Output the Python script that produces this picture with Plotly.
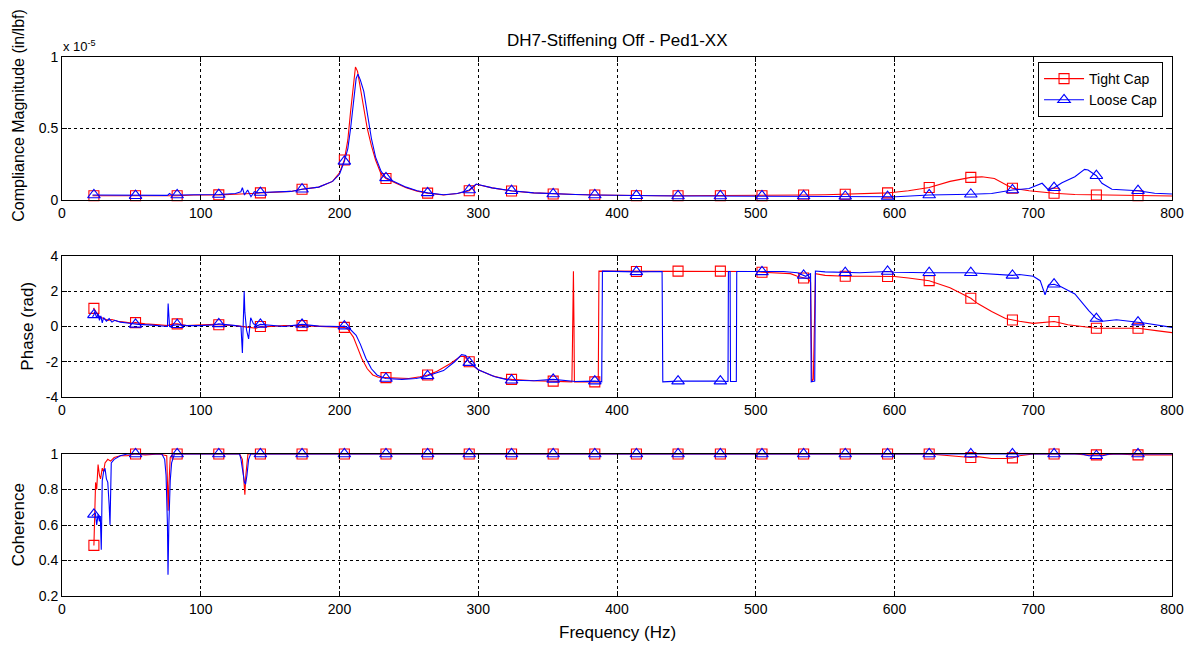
import plotly.graph_objects as go

# ---------------- data ----------------
# marker frequencies (Hz) shared by all series
MARK_F = [23, 53, 83, 113, 143, 173, 203.5, 233.5, 263.5, 293.5, 324, 354, 384, 414,
          444, 474.5, 504.5, 534.5, 564.5, 595, 625, 655, 685, 715, 745.5, 775.5]

# ---- Compliance magnitude (x 1e-5 in/lbf) ----
MAG_TIGHT_F = [22, 25, 28, 35, 45, 60, 70, 80, 95, 105, 125, 135, 155, 165, 185, 195, 200,
               206, 208, 210, 211.5, 213, 215, 217, 220, 223, 226, 230, 240, 248, 256, 275,
               285, 298.5, 310, 340, 370, 400, 430, 460, 490, 520, 550, 580, 600, 610, 640,
               663, 672, 697, 705, 730, 760, 790, 800]
MAG_TIGHT_V = [0.03, 0.028, 0.032, 0.03, 0.03, 0.032, 0.03, 0.032, 0.035, 0.034, 0.04, 0.045,
               0.055, 0.06, 0.09, 0.13, 0.19, 0.42, 0.62, 0.82, 0.93, 0.9, 0.78, 0.65, 0.5,
               0.38, 0.28, 0.18, 0.12, 0.085, 0.062, 0.035, 0.045, 0.11, 0.085, 0.05, 0.038,
               0.032, 0.03, 0.03, 0.03, 0.03, 0.037, 0.043, 0.054, 0.065, 0.13, 0.162, 0.15,
               0.065, 0.055, 0.038, 0.032, 0.028, 0.028]
MAG_TIGHT_MK = [0.03, 0.03, 0.03, 0.036, 0.05, 0.075, 0.28, 0.15, 0.048, 0.065, 0.063, 0.042,
                0.035, 0.03, 0.03, 0.03, 0.03, 0.035, 0.04, 0.05, 0.087, 0.158, 0.082, 0.047,
                0.035, 0.03]

MAG_LOOSE_F = [22, 25, 27, 30, 35, 45, 60, 70, 76, 77.5, 79, 95, 110, 125, 128.9, 130, 131.5,
               133.8, 136.2, 138.6, 141, 155, 165, 185, 195, 200, 206, 208, 210, 212, 213.3,
               215, 217.5, 220, 223, 226, 230, 240, 248, 256, 275, 285, 298.5, 310, 340, 370,
               400, 430, 460, 490, 520, 550, 580, 601, 640, 670, 697, 706.4, 711, 720.7, 730,
               737, 739.5, 749.5, 756.7, 787.5, 800]
MAG_LOOSE_V = [0.035, 0.03, 0.035, 0.03, 0.03, 0.03, 0.032, 0.03, 0.032, 0.045, 0.035, 0.036,
               0.038, 0.045, 0.058, 0.086, 0.035, 0.07, 0.023, 0.058, 0.05, 0.055, 0.06, 0.09,
               0.13, 0.18, 0.36, 0.5, 0.7, 0.85, 0.88, 0.84, 0.76, 0.6, 0.43, 0.3, 0.2, 0.125,
               0.09, 0.065, 0.037, 0.045, 0.112, 0.085, 0.05, 0.038, 0.032, 0.03, 0.028, 0.028,
               0.028, 0.028, 0.025, 0.023, 0.035, 0.045, 0.08, 0.117, 0.07, 0.121, 0.163, 0.214,
               0.21, 0.117, 0.075, 0.047, 0.042]
MAG_LOOSE_MK = [0.035, 0.03, 0.035, 0.038, 0.052, 0.075, 0.27, 0.155, 0.05, 0.07, 0.065, 0.042,
                0.035, 0.03, 0.028, 0.028, 0.028, 0.028, 0.026, 0.024, 0.035, 0.04, 0.07, 0.086,
                0.17, 0.065]

# ---- Phase (rad) ----
PH_TIGHT_F = [22.5, 25, 27, 30, 33, 36, 40, 45, 50, 60, 70, 76, 80, 90, 100, 110, 125, 135, 140,
              146, 150, 160, 185, 200, 206, 210, 213, 216, 220, 224, 228, 240, 250, 258, 270,
              280, 287, 290, 296, 300, 310, 318, 340, 367.5, 367.8, 368.3, 368.6, 369, 369.3,
              386.5, 387, 400, 430, 500, 525, 530, 538, 539.5, 540.5, 541.5, 543, 550, 580, 600,
              610, 640, 660, 670, 680, 690, 700, 708, 725, 735, 760, 790, 800]
PH_TIGHT_V = [1.0, 0.75, 0.55, 0.45, 0.35, 0.4, 0.3, 0.25, 0.2, 0.15, 0.1, 0.05, 0.15, 0.05, 0.1,
              0.12, 0.05, -0.05, -0.1, -0.02, 0.0, 0.05, 0.0, -0.05, -0.15, -0.6, -1.2, -1.8,
              -2.4, -2.75, -2.88, -2.95, -2.95, -2.85, -2.55, -2.1, -1.7, -1.7, -2.2, -2.45,
              -2.8, -2.95, -3.08, -3.14, -1.6, 1.6, 3.14, 0.0, -3.14, -3.14, 3.14, 3.14, 3.14,
              3.12, 3.0, 2.85, 2.7, 2.5, -3.1, -3.0, 3.0, 2.9, 2.85, 2.84, 2.75, 2.2, 1.3, 0.85,
              0.45, 0.3, 0.18, 0.22, 0.1, 0.0, -0.1, -0.25, -0.35]
PH_TIGHT_MK = [1.03, 0.22, 0.15, 0.1, 0.0, 0.05, -0.05, -2.9, -2.75, -2.0, -3.0, -3.1, -3.14,
               3.12, 3.14, 3.14, 3.08, 2.75, 2.85, 2.84, 2.6, 1.6, 0.37, 0.28, -0.1, -0.1]

PH_LOOSE_F = [22, 23.5, 25, 26, 27, 28, 29, 30, 32, 34, 36, 38, 42, 47, 55, 65, 72, 76, 76.5, 77,
              77.5, 79, 90, 100, 110, 125, 129, 130, 131.3, 131.8, 133, 134.5, 136, 138, 141,
              160, 185, 200, 207, 212, 215, 219, 223, 227, 232, 245, 255, 262, 275, 283, 288,
              291, 295, 300, 312, 320, 340, 370, 389, 389.5, 432.5, 433, 480, 480.3, 481.5,
              481.8, 486, 486.3, 520, 530, 536, 539.5, 540, 542.5, 543, 550, 575, 600, 650, 690,
              700, 705, 708.5, 711, 720, 730, 740, 750, 760, 780, 800]
PH_LOOSE_V = [0.55, 0.85, 0.5, 0.7, 0.35, 0.6, 0.2, 0.5, 0.3, 0.45, 0.25, 0.35, 0.25, 0.2, 0.12,
              0.08, 0.05, 0.0, 1.3, 0.4, 0.0, 0.05, 0.05, 0.05, 0.1, 0.05, 0.0, -1.5, 2.0, 0.8,
              -0.2, -0.7, 0.5, 0.15, 0.05, 0.0, 0.02, 0.0, -0.1, -0.5, -1.0, -1.8, -2.4, -2.75,
              -2.92, -3.0, -2.95, -2.85, -2.5, -2.0, -1.6, -1.65, -2.1, -2.45, -2.85, -3.0,
              -3.08, -3.12, -3.14, 3.14, 3.12, -3.14, -3.12, 3.12, 3.12, -3.12, -3.12, 3.12,
              3.12, 3.05, 2.85, 3.0, -3.14, -3.1, 3.15, 3.1, 3.05, 3.08, 3.05, 2.95, 2.85, 2.6,
              1.8, 2.35, 2.25, 1.85, 0.9, 0.3, 0.38, 0.2, -0.05]
PH_LOOSE_MK = [0.66, 0.12, 0.1, 0.15, 0.12, 0.12, 0.02, -2.95, -2.8, -2.05, -3.05, -3.0, -3.1,
               3.1, -3.1, -3.1, 3.1, 2.9, 3.05, 3.12, 3.05, 3.05, 2.9, 2.4, 0.45, 0.25]

# ---- Coherence ----
CO_TIGHT_F = [23.5, 24.2, 25, 26, 27, 27.8, 29, 30, 31, 33, 35, 37.6, 42, 47, 52, 60, 70, 75.5,
              76, 76.5, 77, 78, 80, 100, 128, 130, 131.2, 131.8, 132.5, 134, 140, 620, 640, 660,
              670, 680, 690, 700, 730, 738, 750, 760, 790, 800]
CO_TIGHT_V = [0.69, 0.84, 0.8, 0.94, 0.88, 0.86, 0.92, 0.9, 0.95, 0.97, 0.96, 0.98, 0.99, 0.99,
              1.0, 0.995, 1.0, 0.99, 0.85, 0.68, 0.82, 0.98, 1.0, 1.0, 1.0, 0.97, 0.85, 0.77,
              0.88, 1.0, 1.0, 1.0, 0.99, 0.985, 0.975, 0.975, 0.99, 1.0, 1.0, 0.995, 0.995, 1.0,
              0.995, 0.995]
CO_TIGHT_MK = [0.485, 1.0, 1.0, 1.0, 1.0, 1.0, 1.0, 1.0, 1.0, 1.0, 1.0, 1.0, 1.0, 1.0, 1.0, 1.0,
               1.0, 1.0, 1.0, 1.0, 1.0, 0.98, 0.978, 1.0, 0.995, 0.995]

CO_LOOSE_F = [21.5, 24, 25, 26, 27, 27.6, 28.3, 29, 30, 31, 32, 33, 34, 34.6, 35.5, 37.6, 42, 47,
              60, 72, 74, 75, 76, 76.4, 77, 78, 79, 81, 128, 129, 130.5, 131.5, 132.3, 133.3,
              134.5, 136, 700, 735, 740, 750, 755, 800]
CO_LOOSE_V = [0.65, 0.67, 0.6, 0.66, 0.62, 0.65, 0.46, 0.85, 0.9, 0.92, 0.86, 0.84, 0.71, 0.6,
              0.95, 0.97, 0.99, 1.0, 1.0, 1.0, 0.97, 0.88, 0.6, 0.32, 0.6, 0.85, 0.95, 1.0, 1.0,
              0.97, 0.9, 0.84, 0.83, 0.88, 0.97, 1.0, 1.0, 1.0, 0.99, 0.99, 1.0, 1.0]
CO_LOOSE_MK = [0.66, 1.0, 1.0, 1.0, 1.0, 1.0, 1.0, 1.0, 1.0, 1.0, 1.0, 1.0, 1.0, 1.0, 1.0, 1.0,
               1.0, 1.0, 1.0, 1.0, 1.0, 1.0, 1.0, 1.0, 0.99, 1.0]

X_TICKS = [0, 100, 200, 300, 400, 500, 600, 700, 800]
MAG_TICKS = [0, 0.5, 1]
MAG_TICKTEXT = ["0", "0.5", "1"]
PH_TICKS = [-4, -2, 0, 2, 4]
CO_TICKS = [0.2, 0.4, 0.6, 0.8, 1.0]
CO_TICKTEXT = ["0.2", "0.4", "0.6", "0.8", "1"]

SERIES_NAMES = ["Tight Cap", "Loose Cap"]

# ---------------- figure ----------------
RED = "#ff0000"
BLUE = "#0000ff"
FONT = "Liberation Sans, Arial, sans-serif"


def merged(f_line, v_line, f_mark, v_mark):
    pts = sorted(zip(list(f_line) + list(f_mark), list(v_line) + list(v_mark)),
                 key=lambda p: p[0])
    return [p[0] for p in pts], [p[1] for p in pts]


fig = go.Figure()

panels = [
    ("x", "y", (MAG_TIGHT_F, MAG_TIGHT_V, MAG_TIGHT_MK), (MAG_LOOSE_F, MAG_LOOSE_V, MAG_LOOSE_MK)),
    ("x2", "y2", (PH_TIGHT_F, PH_TIGHT_V, PH_TIGHT_MK), (PH_LOOSE_F, PH_LOOSE_V, PH_LOOSE_MK)),
    ("x3", "y3", (CO_TIGHT_F, CO_TIGHT_V, CO_TIGHT_MK), (CO_LOOSE_F, CO_LOOSE_V, CO_LOOSE_MK)),
]

styles = [(RED, "square-open", 10), (BLUE, "triangle-up-open", 11)]

for xa, ya, tight, loose in panels:
    for (f, v, mk), (col, sym, sz) in zip([tight, loose], styles):
        lx, ly = merged(f, v, MARK_F, mk)
        fig.add_trace(go.Scatter(x=lx, y=ly, mode="lines", xaxis=xa, yaxis=ya,
                                 line=dict(color=col, width=1.1), showlegend=False,
                                 cliponaxis=False, hoverinfo="skip"))
        fig.add_trace(go.Scatter(x=MARK_F, y=mk, mode="markers", xaxis=xa, yaxis=ya,
                                 marker=dict(symbol=sym, size=sz, color=col,
                                             line=dict(color=col, width=1.1)),
                                 showlegend=False, cliponaxis=False, hoverinfo="skip"))

# legend entries
for name, (col, sym, sz) in zip(SERIES_NAMES, styles):
    fig.add_trace(go.Scatter(x=[None], y=[None], mode="lines+markers", name=name,
                             xaxis="x", yaxis="y",
                             line=dict(color=col, width=1.1),
                             marker=dict(symbol=sym, size=sz, color=col,
                                         line=dict(color=col, width=1.1))))

axis_common = dict(showline=True, linecolor="black", linewidth=1, mirror="ticks",
                   ticks="inside", ticklen=5, tickcolor="black",
                   showgrid=True, gridcolor="black", gridwidth=1, griddash="3px,3px",
                   zeroline=False, tickfont=dict(family=FONT, size=14, color="black"))

# the page body has an 8px margin: figure sits at (8, 8) in the window
OFF = 8
H, W = 646 - OFF, 1196 - OFF
ML, MR, MT, MB = 62 - OFF, 19, 57 - OFF, 50
PH = H - MT - MB
PW = W - ML - MR


def ydom(top_px, bot_px):
    return [(H - MB - (bot_px - OFF)) / PH, (H - MB - (top_px - OFF)) / PH]


def px_to_paper_x(px):
    return (px - OFF - ML) / PW


def px_to_paper_y(py):
    return (H - MB - (py - OFF)) / PH


layout_axes = {}
for i, (anchor, dom, rng, tv, tt) in enumerate([
        ("y", ydom(57, 200), [0, 1], MAG_TICKS, MAG_TICKTEXT),
        ("y2", ydom(256, 397), [-4, 4], PH_TICKS, [str(t) for t in PH_TICKS]),
        ("y3", ydom(454, 596), [0.2, 1], CO_TICKS, CO_TICKTEXT)]):
    sfx = "" if i == 0 else str(i + 1)
    layout_axes["xaxis" + sfx] = dict(axis_common, domain=[0, 1], anchor=anchor, range=[0, 800],
                                      tickvals=X_TICKS, ticktext=[str(t) for t in X_TICKS])
    layout_axes["yaxis" + sfx] = dict(axis_common, domain=dom, anchor="x" + sfx, range=rng,
                                      tickvals=tv, ticktext=tt)

fig.update_layout(**layout_axes)

ann_font = dict(family=FONT, size=17, color="black")
annotations = [
    dict(text="DH7-Stiffening Off - Ped1-XX", x=0.5, y=px_to_paper_y(40), xref="paper",
         yref="paper", showarrow=False, xanchor="center", yanchor="middle", font=ann_font),
    dict(text="x 10<sup>-5</sup>", x=px_to_paper_x(61), y=px_to_paper_y(46), xref="paper",
         yref="paper", showarrow=False, xanchor="left", yanchor="middle",
         font=dict(family=FONT, size=13, color="black")),
    dict(text="Compliance Magnitude (in/lbf)", textangle=-90, x=px_to_paper_x(18),
         y=px_to_paper_y(224), xref="paper", yref="paper", showarrow=False,
         xanchor="center", yanchor="bottom", font=dict(family=FONT, size=16, color="black")),
    dict(text="Phase (rad)", textangle=-90, x=px_to_paper_x(27), y=px_to_paper_y(326.5),
         xref="paper", yref="paper", showarrow=False, xanchor="center", yanchor="middle",
         font=ann_font),
    dict(text="Coherence", textangle=-90, x=px_to_paper_x(18), y=px_to_paper_y(525),
         xref="paper", yref="paper", showarrow=False, xanchor="center", yanchor="middle",
         font=ann_font),
    dict(text="Frequency (Hz)", x=0.5, y=px_to_paper_y(632), xref="paper", yref="paper",
         showarrow=False, xanchor="center", yanchor="middle", font=ann_font),
]

fig.update_layout(
    width=W, height=H,
    margin=dict(l=ML, r=MR, t=MT, b=MB, pad=0),
    paper_bgcolor="white", plot_bgcolor="white",
    font=dict(family=FONT, size=13, color="black"),
    annotations=annotations,
    showlegend=True,
    legend=dict(x=px_to_paper_x(1168), y=px_to_paper_y(62), xanchor="right", yanchor="top",
                bgcolor="white", bordercolor="black", borderwidth=1,
                font=dict(family=FONT, size=14, color="black"),
                tracegroupgap=0, itemwidth=40),
)

fig.write_html("out.html")
